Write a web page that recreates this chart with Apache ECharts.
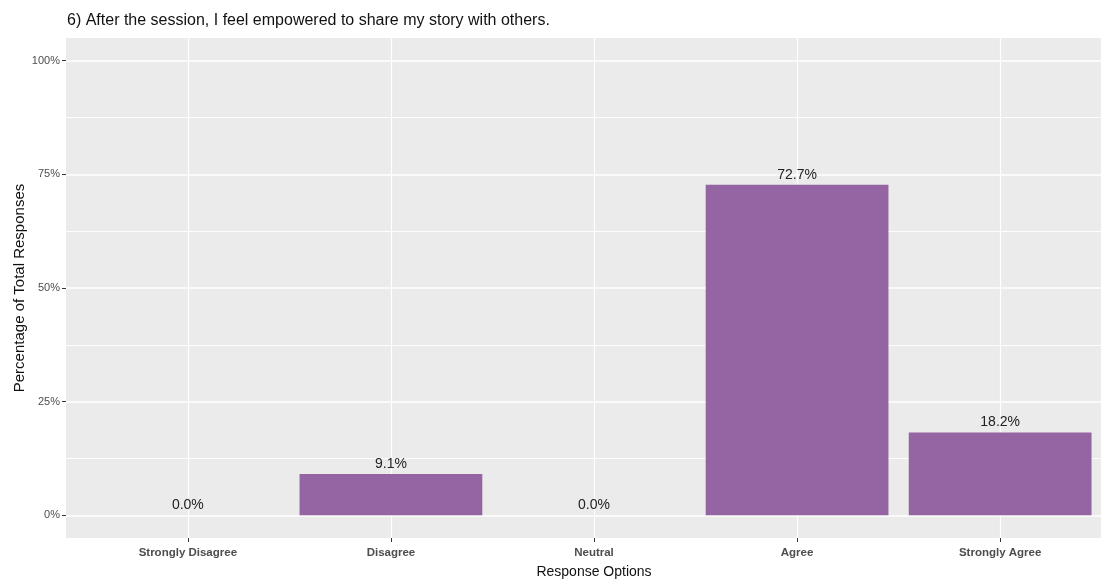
<!DOCTYPE html>
<html>
<head>
<meta charset="utf-8">
<script src="https://cdn.jsdelivr.net/npm/echarts@6/dist/echarts.min.js"></script>
<style>
html,body{margin:0;padding:0;background:#fff;}
#chart{width:1101px;height:580px;}
</style>
</head>
<body>
<div id="chart"></div>
<script>
// ---- data ----
const titleText = "6) After the session, I feel empowered to share my story with others.";
const categories = ["Strongly Disagree", "Disagree", "Neutral", "Agree", "Strongly Agree"];
const percentages = [0.0, 9.1, 0.0, 72.7, 18.2];
const yTicks = [0, 25, 50, 75, 100];
const yMinorTicks = [12.5, 37.5, 62.5, 87.5];
const xTicks = categories.map((c, i) => i);

const barData = percentages.map((v, i) => [i, v]);

const chart = echarts.init(document.getElementById('chart'), null, {renderer: 'canvas'});
const gridLines = []
  .concat(yTicks.map(v => ({yAxis: v, lineStyle: {width: 1.6}})))
  .concat(yMinorTicks.map(v => ({yAxis: v, lineStyle: {width: 0.9}})))
  .concat(xTicks.map(v => ({xAxis: v, lineStyle: {width: 1.2}})));

chart.setOption({
  animation: false,
  backgroundColor: '#ffffff',
  title: {
    text: titleText,
    left: 62, top: 8,
    textStyle: {fontFamily: "'Liberation Sans', Arial, sans-serif", fontSize: 16, fontWeight: 'normal', color: '#111'}
  },
  grid: {
    left: 66, top: 38, bottom: 42, width: 1056,
    outerBoundsMode: 'none',
    show: true, backgroundColor: '#EBEBEB', borderWidth: 0, containLabel: false
  },
  xAxis: {
    type: 'value', min: -0.6, max: 4.6,
    name: 'Response Options', nameLocation: 'middle', nameGap: 27, nameMoveOverlap: false,
    nameTextStyle: {fontFamily: "'Liberation Sans', Arial, sans-serif", fontSize: 14, color: '#111'},
    axisLine: {show: false, onZero: false},
    splitLine: {show: false},
    axisTick: {show: true, customValues: xTicks, length: 4, lineStyle: {color: '#333', width: 1}},
    axisLabel: {
      customValues: xTicks, margin: 9,
      formatter: v => categories[Math.round(v)] || '',
      fontFamily: "'Liberation Sans Narrow', 'Arial Narrow', 'Liberation Sans', sans-serif",
      fontWeight: 'bold', fontSize: 11.5, color: '#4D4D4D'
    }
  },
  yAxis: {
    type: 'value', min: -5, max: 105,
    name: 'Percentage of Total Responses', nameLocation: 'middle', nameGap: 39, nameMoveOverlap: false,
    nameTextStyle: {fontFamily: "'Liberation Sans', Arial, sans-serif", fontSize: 15, color: '#111'},
    axisLine: {show: false, onZero: false},
    splitLine: {show: false},
    axisTick: {show: true, customValues: yTicks, length: 4, lineStyle: {color: '#333', width: 1}},
    axisLabel: {
      customValues: yTicks, margin: 6,
      formatter: v => v + '%',
      fontFamily: "'Liberation Sans', Arial, sans-serif", fontSize: 11, color: '#4D4D4D'
    }
  },
  series: [
    {
      type: 'line', data: [], z: 1, silent: true,
      markLine: {
        z: 1, silent: true, symbol: ['none', 'none'], animation: false,
        label: {show: false},
        lineStyle: {color: '#ffffff', type: 'solid'},
        emphasis: {disabled: true},
        data: gridLines
      }
    },
    {
      type: 'bar', z: 10,
      data: barData,
      barWidth: '90%',
      itemStyle: {color: '#9565A3'},
      label: {
        show: true, position: 'top', distance: 3,
        formatter: p => p.value[1].toFixed(1) + '%',
        fontFamily: "'Liberation Sans', Arial, sans-serif", fontSize: 14, color: '#222'
      }
    }
  ]
});
</script>
</body>
</html>
